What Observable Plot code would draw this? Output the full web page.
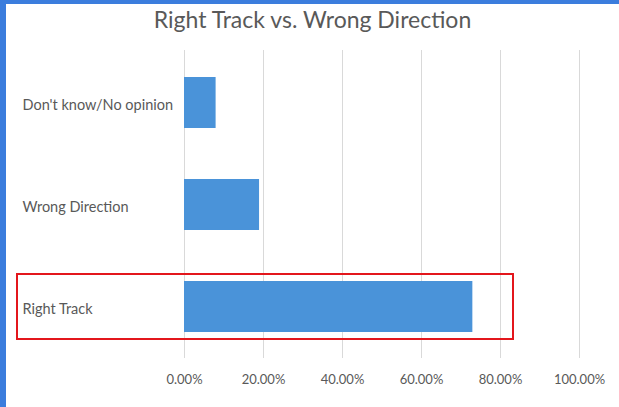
<!DOCTYPE html>
<html><head><meta charset="utf-8">
<script src="https://cdn.jsdelivr.net/npm/d3@7"></script>
<script src="https://cdn.jsdelivr.net/npm/@observablehq/plot@0.6"></script>
<style>
html,body{margin:0;padding:0;background:#fff;}
#wrap{position:relative;width:619px;height:407px;overflow:hidden;background:#fff;font-family:Lato,sans-serif;}
#bl{position:absolute;left:0;top:0;width:6px;height:407px;background:#3b7ddd;z-index:3;}
#bt{position:absolute;left:0;top:0;width:619px;height:4px;background:#3b7ddd;z-index:3;}
#title{position:absolute;left:6px;right:0;top:4px;text-align:center;font-size:23px;color:#595959;line-height:30px;z-index:2;}
#hl{position:absolute;left:16px;top:273px;width:498px;height:67px;border:2px solid #e3161c;box-sizing:border-box;z-index:2;}
#chart{position:absolute;left:0;top:0;z-index:1;}
</style>
</head><body>
<div id="wrap">
  <div id="bl"></div><div id="bt"></div>
  <div id="title"></div>
  <div id="chart"></div>
  <div id="hl"></div>
</div>
<script>
const title = "Right Track vs. Wrong Direction";
const categories = ["Don't know/No opinion", "Wrong Direction", "Right Track"];
const values = [0.08, 0.19, 0.73];
const xTicks = [0, 0.2, 0.4, 0.6, 0.8, 1.0];

document.getElementById("title").textContent = title;
const data = categories.map((c, i) => ({category: c, value: values[i]}));

const chart = Plot.plot({
  width: 619,
  height: 407,
  marginLeft: 184,
  marginRight: 40,
  marginTop: 50,
  marginBottom: 49,
  style: {fontFamily: "Lato, sans-serif", color: "#595959", background: "transparent"},
  x: {domain: [0, 1], ticks: xTicks},
  y: {domain: categories, paddingInner: 0.5, paddingOuter: 0.25},
  marks: [
    Plot.gridX(xTicks, {stroke: "#d9d9d9", strokeOpacity: 1, strokeWidth: 1}),
    Plot.barX(data, {x: "value", y: "category", fill: "#4a93d9"}),
    Plot.axisX(xTicks, {tickSize: 0, tickPadding: 16, fontSize: 13, fill: "#595959", tickFormat: d => (d * 100).toFixed(2) + "%", label: null}),
    Plot.axisY({tickSize: 0, tickPadding: 162, textAnchor: "start", fontSize: 14.5, dy: 2, fill: "#595959", label: null})
  ]
});
document.getElementById("chart").appendChild(chart);
</script>
</body></html>
